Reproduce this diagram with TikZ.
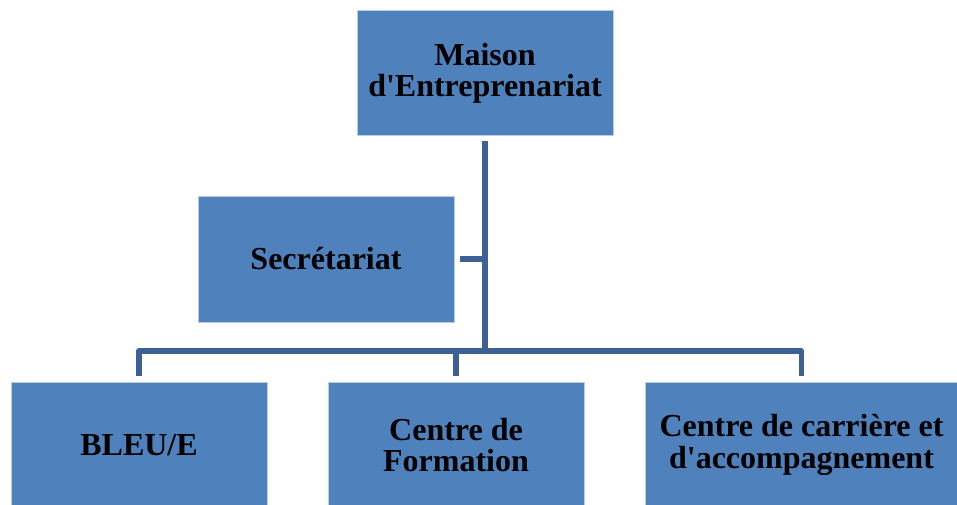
\documentclass[tikz,border=0pt]{standalone}
\usepackage{fontspec}
\setmainfont{Liberation Serif}[Ligatures=TeXOff]
\definecolor{boxfill}{HTML}{4F81BD}
\definecolor{boxedge}{HTML}{B9CDE5}
\definecolor{linecol}{HTML}{3D6195}
\begin{document}
\begin{tikzpicture}[x=0.75pt,y=-0.75pt,
  orgbox/.style={rectangle, fill=boxfill, draw=boxedge, line width=0.75pt,
    minimum width=192pt, minimum height=94.5pt, inner sep=2pt, align=center,
    font=\fontsize{24pt}{23.5pt}\selectfont\bfseries},
  conn/.style={draw=linecol, line width=3.9pt, line join=round}]
\useasboundingbox[fill=white] (0,0) rectangle (957,504);
\node[orgbox, minimum height=93.75pt] (top) at (485,73) {Maison\\d'Entreprenariat};
\node[orgbox] (sec) at (326,259) {Secrétariat};
\node[orgbox] (b1) at (139,445) {BLEU/E};
\node[orgbox] (b2) at (456,445) {Centre de\\Formation};
\node[orgbox, minimum width=234.75pt] (b3) at (801.5,445) {Centre de carrière et\\d'accompagnement};
\coordinate (bus) at (485,351);
\draw[conn, shorten <=3.75pt] (top.south) -- (bus);
\draw[conn, shorten <=3.75pt] (sec.east) -- (sec.east -| bus);
\draw[conn, shorten <=4.5pt, shorten >=4.5pt] (b1.north) |- (bus) -| (b3.north);
\draw[conn, shorten >=4.5pt] (b2.north |- bus) -- (b2.north);
\end{tikzpicture}
\end{document}
